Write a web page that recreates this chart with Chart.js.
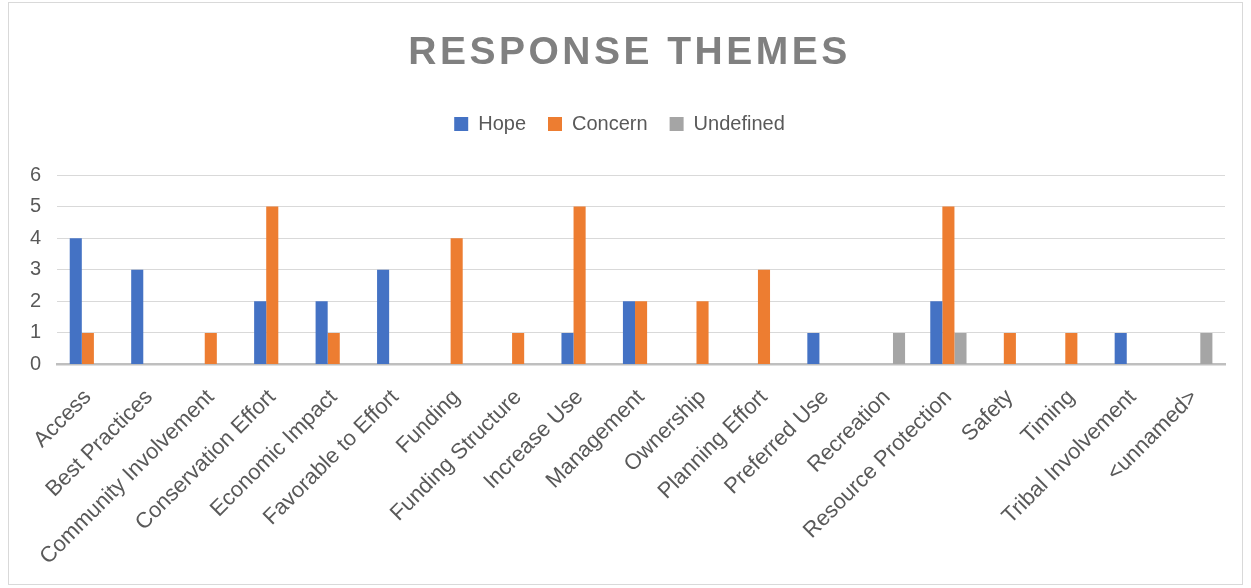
<!DOCTYPE html>
<html>
<head>
<meta charset="utf-8">
<script src="https://cdn.jsdelivr.net/npm/chart.js@4/dist/chart.umd.min.js"></script>
<style>
  html, body { margin: 0; padding: 0; background: #fff; }
  #box {
    position: absolute; left: 8px; top: 2px;
    width: 1235px; height: 583px;
    border: 1px solid #d9d9d9; box-sizing: border-box;
  }
</style>
</head>
<body>
<div id="box"><canvas id="themes"></canvas></div>
<script>
var themes = ['Access', 'Best Practices', 'Community Involvement', 'Conservation Effort',
  'Economic Impact', 'Favorable to Effort', 'Funding', 'Funding Structure', 'Increase Use',
  'Management', 'Ownership', 'Planning Effort', 'Preferred Use', 'Recreation',
  'Resource Protection', 'Safety', 'Timing', 'Tribal Involvement', '<unnamed>'];
var hope      = [4, 3, 0, 2, 2, 3, 0, 0, 1, 2, 0, 0, 1, 0, 2, 0, 0, 1, 0];
var concern   = [1, 0, 1, 5, 1, 0, 4, 1, 5, 2, 2, 3, 0, 0, 5, 1, 1, 0, 0];
var undefinedCount = [0, 0, 0, 0, 0, 0, 0, 0, 0, 0, 0, 0, 0, 1, 1, 0, 0, 0, 1];
var yTicks = [0, 1, 2, 3, 4, 5, 6];

var FONT = "'Liberation Sans', Arial, sans-serif";
var TEXT = '#595959';

// spaced-out bold heading, drawn by hand so letterSpacing can be used
var heading = {
  id: 'heading',
  afterDraw: function (chart) {
    var ctx = chart.ctx;
    ctx.save();
    ctx.font = 'bold 39px ' + FONT;
    ctx.letterSpacing = '3.5px';
    ctx.fillStyle = '#808080';
    ctx.textAlign = 'center';
    ctx.textBaseline = 'middle';
    ctx.fillText('RESPONSE THEMES', chart.width / 2 + 4, 50);
    ctx.restore();
  }
};

// extra room under the legend
var legendGap = {
  id: 'legendGap',
  beforeInit: function (chart) {
    var fit = chart.legend.fit;
    chart.legend.fit = function () {
      fit.bind(chart.legend)();
      this.height += 31;
    };
  }
};

var ctx = document.getElementById('themes').getContext('2d');
var chart = new Chart(ctx, {
  type: 'bar',
  data: {
    labels: themes,
    datasets: [
      { label: 'Hope', data: hope, backgroundColor: '#4472c4' },
      { label: 'Concern', data: concern, backgroundColor: '#ed7d31' },
      { label: 'Undefined', data: undefinedCount, backgroundColor: '#a5a5a5' }
    ]
  },
  options: {
    responsive: true,
    maintainAspectRatio: false,
    animation: false,
    categoryPercentage: 0.59,
    barPercentage: 1.0,
    layout: { padding: { top: 89, left: 5, right: 17, bottom: 2 } },
    plugins: {
      legend: {
        position: 'top',
        labels: {
          boxWidth: 14, boxHeight: 14,
          padding: 22,
          color: TEXT,
          font: { family: FONT, size: 20 }
        }
      },
      tooltip: { enabled: false }
    },
    scales: {
      x: {
        grid: { display: false },
        border: { color: '#bfbfbf', width: 2.5 },
        ticks: {
          color: TEXT,
          font: { family: FONT, size: 22 },
          maxRotation: 45, minRotation: 45,
          autoSkip: false,
          padding: 12
        }
      },
      y: {
        min: 0, max: 6,
        afterBuildTicks: function (axis) {
          axis.ticks = yTicks.map(function (v) { return { value: v }; });
        },
        grid: { color: '#d9d9d9', lineWidth: 1, drawTicks: false },
        border: { display: false },
        ticks: {
          color: TEXT,
          font: { family: FONT, size: 20 },
          padding: 16
        }
      }
    }
  },
  plugins: [heading, legendGap]
});
</script>
</body>
</html>
